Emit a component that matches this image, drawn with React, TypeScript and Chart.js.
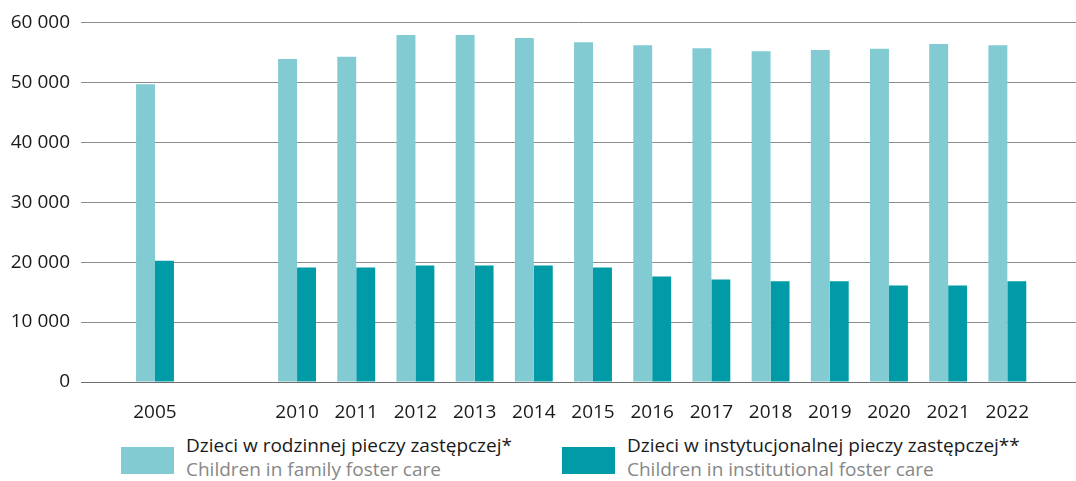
import React, { useEffect, useRef } from "react";
import { Chart, registerables } from "chart.js";

Chart.register(...registerables);

const categories = ["2005", "2010", "2011", "2012", "2013", "2014", "2015", "2016", "2017", "2018", "2019", "2020", "2021", "2022"];
const familyCare = [49700, 53900, 54250, 57900, 57900, 57400, 56700, 56200, 55700, 55200, 55400, 55600, 56400, 56200];
const institutionalCare = [20250, 19100, 19100, 19450, 19450, 19450, 19100, 17600, 17100, 16800, 16800, 16100, 16100, 16800];
const yTicks = [0, 10000, 20000, 30000, 40000, 50000, 60000];
const legendPl = ["Dzieci w rodzinnej pieczy zastępczej*", "Dzieci w instytucjonalnej pieczy zastępczej**"];
const legendEn = ["Children in family foster care", "Children in institutional foster care"];

const COLOR_FAMILY = "#82CBD2";
const COLOR_INST = "#009BA6";
const GAP_AFTER_FIRST = 1.4; // visual break between 2005 and 2010
const FONT = "'Open Sans', 'Noto Sans', sans-serif";

const slot = (i: number) => i + (i > 0 ? GAP_AFTER_FIRST : 0);
const fmt = (v: number) => String(v).replace(/\B(?=(\d{3})+(?!\d))/g, " ");

export default function App() {
  const ref = useRef<HTMLCanvasElement | null>(null);

  useEffect(() => {
    if (!ref.current) return;
    const positions = categories.map((_, i) => slot(i));
    const chart = new Chart(ref.current, {
      type: "bar",
      data: {
        datasets: [
          {
            label: legendPl[0],
            data: familyCare.map((v, i) => ({ x: positions[i], y: v })),
            backgroundColor: COLOR_FAMILY,
            categoryPercentage: 0.64,
            barPercentage: 1,
          },
          {
            label: legendPl[1],
            data: institutionalCare.map((v, i) => ({ x: positions[i], y: v })),
            backgroundColor: COLOR_INST,
            categoryPercentage: 0.64,
            barPercentage: 1,
          },
        ],
      },
      options: {
        animation: false,
        responsive: false,
        maintainAspectRatio: false,
        layout: { padding: { top: 19, left: 0, right: 0, bottom: 0 } },
        plugins: { legend: { display: false }, tooltip: { enabled: false } },
        scales: {
          x: {
            type: "linear",
            min: -1.25,
            max: 15.56,
            offset: false,
            grid: { display: false },
            border: { display: false },
            afterBuildTicks: (scale: any) => {
              scale.ticks = positions.map((p) => ({ value: p }));
            },
            afterFit: (scale: any) => {
              scale.height = 48;
            },
            ticks: {
              autoSkip: false,
              maxRotation: 0,
              padding: 11,
              color: "#1a1a1a",
              font: { family: FONT, size: 19 },
              callback: (v: any) => {
                const idx = positions.findIndex((p) => Math.abs(p - Number(v)) < 1e-6);
                return idx >= 0 ? categories[idx] : "";
              },
            },
          },
          y: {
            min: 0,
            max: 60000,
            afterBuildTicks: (scale: any) => {
              scale.ticks = yTicks.map((v) => ({ value: v }));
            },
            afterFit: (scale: any) => {
              scale.width = 81;
            },
            grid: {
              color: (ctx: any) => (ctx.tick && ctx.tick.value === 0 ? "#6e6e6e" : "#8c8c8c"),
              lineWidth: 1,
              drawTicks: false,
            },
            border: { display: false },
            ticks: {
              padding: 11,
              color: "#1a1a1a",
              font: { family: FONT, size: 19 },
              callback: (v: any) => fmt(Number(v)),
            },
          },
        },
      },
    });
    return () => chart.destroy();
  }, []);

  const legendBox = (left: number, color: string, i: number) => (
    <div key={i} style={{ position: "absolute", left, top: 433 }}>
      <div style={{ position: "absolute", left: 0, top: 14, width: 53, height: 27, background: color }} />
      <div style={{ position: "absolute", left: 65, top: 0, whiteSpace: "nowrap", fontFamily: FONT, fontSize: 19, lineHeight: "24px" }}>
        <div style={{ color: "#1a1a1a" }}>{legendPl[i]}</div>
        <div style={{ color: "#878787" }}>{legendEn[i]}</div>
      </div>
    </div>
  );

  return (
    <div style={{ position: "fixed", left: 0, top: 0, width: 1076, height: 481, background: "#fff", overflow: "hidden" }}>
      <canvas ref={ref} width={1076} height={430} style={{ display: "block" }} />
      {legendBox(121, COLOR_FAMILY, 0)}
      {legendBox(562, COLOR_INST, 1)}
    </div>
  );
}
